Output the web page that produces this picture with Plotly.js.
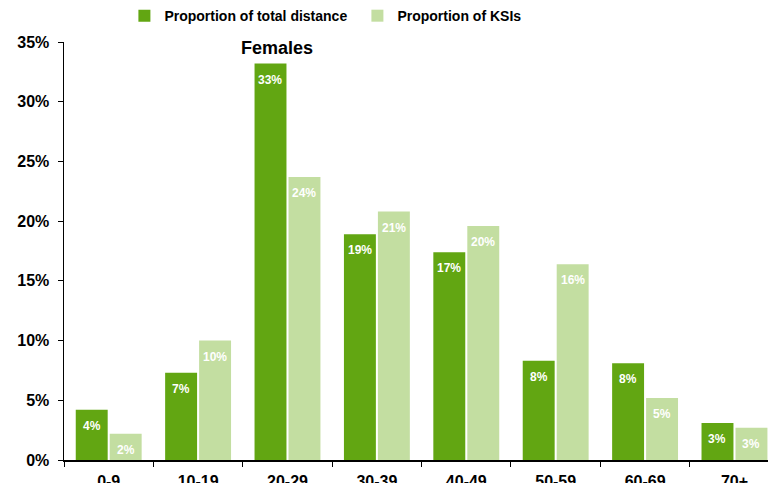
<!DOCTYPE html>
<html>
<head>
<meta charset="utf-8">
<script src="https://cdn.plot.ly/plotly-3.0.1.min.js"></script>
<style>html,body{margin:0;padding:0;background:#fff;}#chart{width:768px;height:483px;}</style>
</head>
<body>
<div id="chart"></div>
<script>
var categories = ['0-9', '10-19', '20-29', '30-39', '40-49', '50-59', '60-69', '70+'];
var totalDistance = [4.2, 7.3, 33.2, 18.9, 17.4, 8.3, 8.1, 3.1];
var ksis = [2.2, 10.0, 23.7, 20.8, 19.6, 16.4, 5.2, 2.7];
var yTicks = [0, 5, 10, 15, 20, 25, 30, 35];
var seriesNames = ['Proportion of total distance', 'Proportion of KSIs'];
var chartTitle = 'Females';

var FONT = 'Arial, "Liberation Sans", sans-serif';
function labels(arr) { return arr.map(function (v) { return Math.round(v) + '%'; }); }

var traces = [
  {
    type: 'bar', name: seriesNames[0], x: categories, y: totalDistance,
    marker: {color: '#62A612', line: {width: 0}},
    hoverinfo: 'none'
  },
  {
    type: 'bar', name: seriesNames[1], x: categories, y: ksis,
    marker: {color: '#C3DEA1', line: {width: 0}},
    hoverinfo: 'none'
  }
];

// value labels placed through the axes, inside each bar below its top
var annotations = [];
[totalDistance, ksis].forEach(function (series, si) {
  var txt = labels(series);
  series.forEach(function (v, j) {
    annotations.push({
      x: categories[j], y: v, xref: 'x', yref: 'y',
      xshift: si === 0 ? -17 : 17, yshift: -16,
      text: txt[j], showarrow: false, xanchor: 'center', yanchor: 'middle',
      font: {family: FONT, size: 12, color: '#ffffff', weight: 'bold'}
    });
  });
});
annotations.push({
  text: chartTitle, xref: 'paper', yref: 'paper', x: 0.3026, y: 0.986,
  xanchor: 'center', yanchor: 'middle', showarrow: false,
  font: {family: FONT, size: 18, color: '#000000', weight: 'bold'}
});

var layout = {
  width: 768, height: 483,
  margin: {l: 64, r: 0, t: 40, b: 23, pad: 0},
  paper_bgcolor: '#ffffff', plot_bgcolor: '#ffffff',
  font: {family: FONT, color: '#000000'},
  barmode: 'group', bargap: 0.24, bargroupgap: 0.06,
  showlegend: true,
  legend: {
    orientation: 'h', x: 0.0858, xanchor: 'left', y: 1.062, yanchor: 'middle',
    font: {family: FONT, size: 14, color: '#000000', weight: 'bold'},
    traceorder: 'normal', itemwidth: 30, entrywidth: 188
  },
  xaxis: {
    type: 'category', range: [-0.5, 7.375],
    showline: true, linecolor: '#000000', linewidth: 1.5,
    ticks: 'outside', tickson: 'boundaries', ticklen: 5, tickcolor: '#000000',
    ticklabelstandoff: 6,
    tickfont: {family: FONT, size: 16, color: '#000000', weight: 'bold'},
    showgrid: false, zeroline: false, fixedrange: true
  },
  yaxis: {
    range: [0, 35], tickvals: yTicks, ticktext: yTicks.map(function (v) { return v + '%'; }),
    showline: true, linecolor: '#000000', linewidth: 1.5,
    ticks: 'outside', ticklen: 5, tickcolor: '#000000',
    ticklabelstandoff: 5,
    tickfont: {family: FONT, size: 16, color: '#000000', weight: 'bold'},
    showgrid: false, zeroline: false, fixedrange: true
  },
  annotations: annotations
};

Plotly.newPlot('chart', traces, layout, {displayModeBar: false, staticPlot: true});
</script>
</body>
</html>
